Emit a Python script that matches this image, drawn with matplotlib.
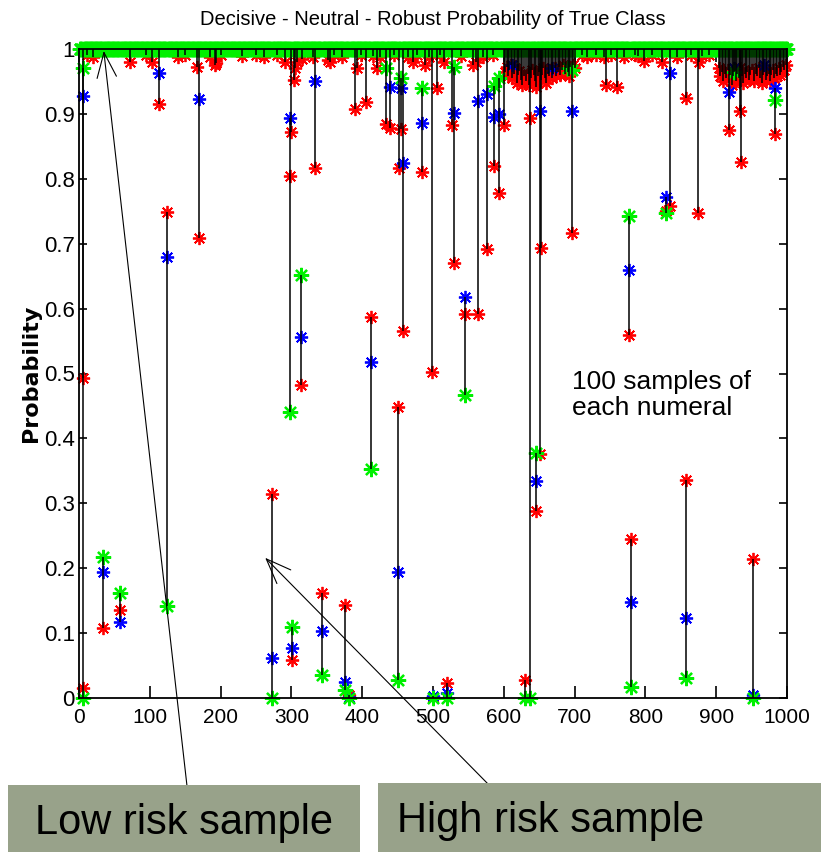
import numpy as np
import matplotlib.pyplot as plt
from matplotlib.patches import Rectangle

# ---- data ----
n_samples = 1000
sample_x = np.arange(1, n_samples + 1)

# x, red (decisive), blue (neutral), green (robust) for the samples that leave 1.0
notable_x = [5, 6, 34, 58, 113, 124, 170, 273, 298, 300, 301, 303, 313, 333, 343,
             376, 382, 390, 405, 413, 433, 439, 450, 452, 455, 458, 485, 498, 500,
             506, 520, 527, 529, 545, 563, 576, 586, 593, 600, 630, 637, 645, 651,
             653, 697, 744, 760, 777, 779, 829, 835, 857, 858, 874, 918, 933, 935,
             952, 983]
notable_red = [0.493, 0.015, 0.108, 0.135, 0.915, 0.749, 0.709, 0.315, 0.805, 0.872,
               0.058, 0.953, 0.482, 0.816, 0.162, 0.143, 0.005, 0.907, 0.919, 0.587,
               0.884, 0.878, 0.448, 0.816, 0.877, 0.565, 0.81, 0.503, 0.002, 0.94,
               0.023, 0.883, 0.67, 0.592, 0.592, 0.692, 0.82, 0.778, 0.883, 0.027,
               0.893, 0.288, 0.376, 0.693, 0.716, 0.944, 0.941, 0.559, 0.245, 0.75,
               0.758, 0.925, 0.336, 0.747, 0.875, 0.905, 0.826, 0.214, 0.869]
notable_blue = [0.928, 1.0, 0.194, 0.117, 0.963, 0.68, 0.923, 0.062, 0.893, 1.0,
                0.077, 1.0, 0.556, 0.951, 0.103, 0.024, 0.002, 1.0, 1.0, 0.518,
                1.0, 0.942, 0.194, 1.0, 0.94, 0.824, 0.886, 1.0, 0.003, 1.0,
                0.007, 1.0, 0.901, 0.618, 0.92, 0.93, 0.895, 0.9, 1.0, 0.0,
                1.0, 0.335, 0.905, 1.0, 0.904, 1.0, 1.0, 0.659, 0.148, 0.772,
                0.963, 1.0, 0.124, 1.0, 0.934, 1.0, 1.0, 0.005, 0.94]
notable_green = [0.971, 0.0, 0.217, 0.162, 1.0, 0.142, 1.0, 0.0, 0.44, 1.0,
                 0.11, 1.0, 0.652, 1.0, 0.035, 0.012, 0.0, 1.0, 1.0, 0.353,
                 0.97, 1.0, 0.027, 1.0, 0.955, 1.0, 0.94, 1.0, 0.0, 1.0,
                 0.0, 1.0, 0.972, 0.467, 1.0, 1.0, 0.943, 0.955, 1.0, 0.0,
                 0.0, 0.378, 1.0, 1.0, 0.968, 1.0, 1.0, 0.743, 0.017, 0.747,
                 1.0, 1.0, 0.031, 1.0, 1.0, 1.0, 1.0, 0.0, 0.921]

# small red dips just under the top
dip_x = [72, 103, 124, 166, 192, 194, 291, 305, 308, 315, 352, 354, 392, 421, 472,
         489, 515, 556, 561, 798, 824, 876]
dip_red = [0.98, 0.98, 0.98, 0.972, 0.975, 0.978, 0.98, 0.97, 0.98, 0.985, 0.983,
           0.98, 0.97, 0.97, 0.98, 0.975, 0.98, 0.975, 0.98, 0.981, 0.98, 0.98]
tick_x = [12, 20, 95, 140, 150, 185, 200, 230, 250, 262, 280, 330, 360, 372, 398,
          415, 425, 445, 465, 478, 495, 510, 540, 570, 585, 710, 718, 730, 742,
          752, 770, 785, 790, 810, 845, 865, 880, 890]
tick_red = [0.99, 0.988, 0.99, 0.987, 0.99, 0.988, 0.99, 0.989, 0.99, 0.988, 0.99,
            0.987, 0.99, 0.988, 0.99, 0.989, 0.988, 0.99, 0.987, 0.99, 0.988, 0.99,
            0.989, 0.988, 0.99, 0.99, 0.988, 0.99, 0.987, 0.99, 0.988, 0.99, 0.989,
            0.99, 0.988, 0.99, 0.989, 0.99]

# dense bands around 600-700 and 900-1000
band_a_x = list(range(602, 702, 2))
band_a_red = [0.965, 0.972, 0.958, 0.968, 0.975, 0.955, 0.962, 0.97, 0.948, 0.96,
              0.966, 0.952, 0.944, 0.958, 0.97, 0.95, 0.962, 0.945, 0.955, 0.968,
              0.96, 0.95, 0.942, 0.958, 0.965, 0.952, 0.96, 0.97, 0.955, 0.948,
              0.962, 0.958, 0.968, 0.955, 0.962, 0.97, 0.958, 0.965, 0.972, 0.96,
              0.968, 0.975, 0.962, 0.97, 0.965, 0.958, 0.972, 0.968, 0.975, 0.97]
band_b_x = list(range(904, 1000, 2))
band_b_red = [0.97, 0.958, 0.965, 0.95, 0.962, 0.955, 0.968, 0.952, 0.96, 0.945,
              0.958, 0.966, 0.95, 0.962, 0.955, 0.97, 0.958, 0.948, 0.962, 0.955,
              0.965, 0.952, 0.96, 0.968, 0.955, 0.95, 0.962, 0.958, 0.97, 0.955,
              0.948, 0.96, 0.965, 0.952, 0.958, 0.962, 0.95, 0.96, 0.968, 0.955,
              0.962, 0.958, 0.97, 0.96, 0.965, 0.972, 0.968, 0.975]
band_blue_x = [612, 668, 925, 968]
band_blue = [0.975, 0.97, 0.97, 0.975]
band_green_x = [690, 925]
band_green = [0.97, 0.965]

xtick_vals = list(range(0, 1001, 100))
ytick_vals = [0, 0.1, 0.2, 0.3, 0.4, 0.5, 0.6, 0.7, 0.8, 0.9, 1.0]
ytick_labels = ['0', '0.1', '0.2', '0.3', '0.4', '0.5', '0.6', '0.7', '0.8', '0.9', '1']

# ---- assemble per-sample probabilities ----
red = np.ones(n_samples)
blue = np.ones(n_samples)
green = np.ones(n_samples)
red[np.array(tick_x) - 1] = tick_red
red[np.array(dip_x) - 1] = dip_red
red[np.array(band_a_x) - 1] = band_a_red
red[np.array(band_b_x) - 1] = band_b_red
blue[np.array(band_blue_x) - 1] = band_blue
green[np.array(band_green_x) - 1] = band_green
idx = np.array(notable_x) - 1
red[idx] = notable_red
blue[idx] = notable_blue
green[idx] = notable_green

lo = np.minimum(np.minimum(red, blue), green)
hi = np.maximum(np.maximum(red, blue), green)

# ---- figure ----
sans = 'Liberation Sans'
fig = plt.figure(figsize=(8.21, 8.52), dpi=100)
ax = fig.add_axes([79 / 821, 1 - 698 / 852, 708 / 821, 649 / 852])

star = (8, 2, 0)
ms = 9.5
ax.plot(sample_x, red, ls='none', marker=star, ms=ms, mew=1.3, color='red', clip_on=False, zorder=2)
ax.plot(sample_x, blue, ls='none', marker=star, ms=ms, mew=1.3, color='blue', clip_on=False, zorder=2.05)
ax.plot(sample_x, green, ls='none', marker=star, ms=ms + 1.5, mew=1.6, color='#00f000', clip_on=False, zorder=2.1)
keep = hi > lo
ax.vlines(sample_x[keep], lo[keep], hi[keep], colors='black', lw=1.1, zorder=2.2)

ax.set_xlim(0, 1000)
ax.set_ylim(0, 1)
ax.set_xticks(xtick_vals)
ax.set_yticks(ytick_vals)
ax.set_yticklabels(ytick_labels)
ax.tick_params(direction='in', top=True, right=True, width=1.2)
ax.tick_params(axis='x', length=9, pad=7, labelsize=15)
ax.tick_params(axis='y', length=6, pad=3, labelsize=16)
for lab in ax.get_xticklabels() + ax.get_yticklabels():
    lab.set_family(sans)
for sp in ax.spines.values():
    sp.set_linewidth(1.3)

ax.set_title('Decisive - Neutral - Robust Probability of True Class',
             family=sans, fontsize=14.5, pad=17)
ax.set_ylabel('Probability', fontsize=16, fontweight='bold')
ax.yaxis.set_label_coords(-0.054, 0.5)

ax.text(696, 0.467, '100 samples of\neach numeral', family=sans,
        fontsize=19, ha='left', va='center', linespacing=1.1)

# boxes at the bottom
box_color = '#98a28a'
fig.patches.append(Rectangle((8 / 821, 0), 352 / 821, 67 / 852, transform=fig.transFigure,
                             facecolor=box_color, edgecolor='none', zorder=1))
fig.patches.append(Rectangle((378 / 821, 0), 443 / 821, 69 / 852, transform=fig.transFigure,
                             facecolor=box_color, edgecolor='none', zorder=1))
fig.text(35 / 821, 1 - 823 / 852, 'Low risk sample', family=sans,
         fontsize=30, ha='left', va='center')
fig.text(397 / 821, 1 - 821 / 852, 'High risk sample', family=sans,
         fontsize=30, ha='left', va='center')

arrow = dict(arrowstyle='->,head_length=0.9,head_width=0.35', lw=0.8, color='black',
             mutation_scale=20, shrinkA=0, shrinkB=0)
ax.annotate('', xy=(35, 0.997), xycoords='data', xytext=(187 / 821, 1 - 786 / 852),
            textcoords='figure fraction', arrowprops=arrow, annotation_clip=False, zorder=5)
ax.annotate('', xy=(263, 0.216), xycoords='data', xytext=(490 / 821, 1 - 786 / 852),
            textcoords='figure fraction', arrowprops=arrow, annotation_clip=False, zorder=5)

fig.savefig('out.png', dpi=100)
